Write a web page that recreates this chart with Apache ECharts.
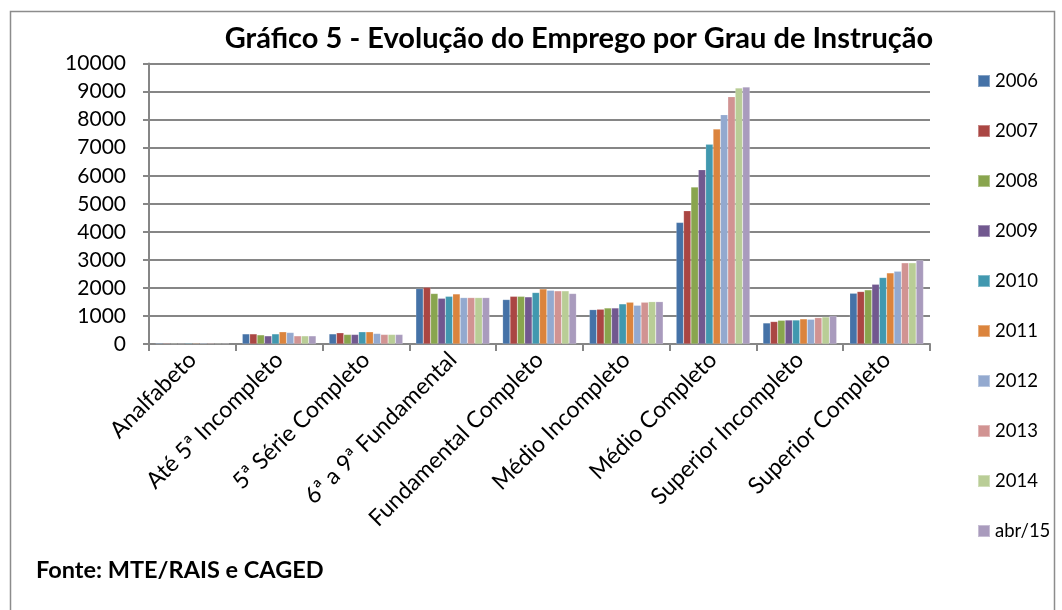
<!DOCTYPE html>
<html>
<head>
<meta charset="utf-8">
<script src="https://cdn.jsdelivr.net/npm/echarts@6/dist/echarts.min.js"></script>
<style>
  html, body { margin: 0; padding: 0; background: #fff; }
  #chart { width: 1062px; height: 610px; }
</style>
</head>
<body>
<div id="chart"></div>
<script>
// categories (grau de instrução)
const categories = [
  "Analfabeto", "Até 5ª Incompleto", "5ª Série Completo", "6ª a 9ª Fundamental",
  "Fundamental Completo", "Médio Incompleto", "Médio Completo",
  "Superior Incompleto", "Superior Completo"
];
const years = ["2006", "2007", "2008", "2009", "2010", "2011", "2012", "2013", "2014", "abr/15"];
const colors = ["#4572A7", "#AA4643", "#89A54E", "#71588F", "#4198AF", "#DB843D", "#93A9CF", "#D19392", "#B9CD96", "#A99BBD"];

// one array per year, values in category order
const v2006 = [30, 360, 360, 1975, 1585, 1225, 4335, 750, 1810];
const v2007 = [25, 360, 400, 2025, 1700, 1240, 4750, 800, 1870];
const v2008 = [20, 325, 340, 1800, 1700, 1285, 5595, 845, 1930];
const v2009 = [20, 290, 340, 1630, 1680, 1285, 6215, 855, 2130];
const v2010 = [30, 360, 435, 1700, 1835, 1430, 7120, 855, 2370];
const v2011 = [25, 435, 435, 1785, 1965, 1490, 7665, 895, 2535];
const v2012 = [30, 410, 375, 1655, 1915, 1380, 8180, 880, 2595];
const v2013 = [25, 290, 340, 1655, 1895, 1490, 8820, 940, 2895];
const v2014 = [20, 290, 340, 1655, 1895, 1510, 9130, 965, 2895];
const vAbr15 = [20, 290, 340, 1655, 1800, 1510, 9165, 1000, 2990];
const seriesValues = [v2006, v2007, v2008, v2009, v2010, v2011, v2012, v2013, v2014, vAbr15];

const myChart = echarts.init(document.getElementById('chart'));

const option = {
  animation: false,
  color: colors,
  textStyle: { fontFamily: "Lato" },
  title: {
    text: "Gráfico 5 - Evolução do Emprego por Grau de Instrução",
    left: 574,
    textAlign: "center",
    top: 19,
    textStyle: { fontFamily: "Lato", fontSize: 29, fontWeight: "bold", color: "#000" }
  },
  legend: {
    orient: "vertical",
    left: 977,
    top: 71,
    padding: 0,
    data: years,
    itemWidth: 12,
    itemHeight: 12,
    itemGap: 30,
    icon: "rect",
    textStyle: { fontFamily: "Lato", fontSize: 18.5, color: "#000", lineHeight: 20 }
  },
  grid: {
    left: 149,
    right: 132,
    top: 63.6,
    bottom: 266,
    containLabel: false
  },
  xAxis: {
    type: "category",
    data: categories,
    axisLine: { lineStyle: { color: "#868686", width: 2 } },
    axisTick: { show: true, length: 7, lineStyle: { color: "#868686", width: 2 } },
    axisLabel: {
      rotate: 45,
      interval: 0,
      margin: 12,
      fontFamily: "Lato",
      fontSize: 23,
      color: "#000"
    }
  },
  yAxis: {
    type: "value",
    min: 0,
    max: 10000,
    interval: 1000,
    axisLine: { show: true, lineStyle: { color: "#868686", width: 2 } },
    axisTick: { show: true, length: 6, lineStyle: { color: "#868686", width: 2 } },
    splitLine: { lineStyle: { color: "#868686", width: 2 } },
    axisLabel: {
      fontFamily: "Lato", fontSize: 21, color: "#000", margin: 23,
      formatter: (val) => String(val)
    }
  },
  series: years.map((y, i) => ({
    name: y,
    type: "bar",
    data: seriesValues[i],
    barGap: "0%",
    barCategoryGap: "15%",
    itemStyle: { borderColor: "rgba(255,255,255,0.35)", borderWidth: 0.5 }
  })),
  graphic: [
    {
      type: "rect",
      left: 8,
      top: 9,
      shape: { width: 1044, height: 640 },
      style: { fill: "none", stroke: "#8c8c8c", lineWidth: 1.5 },
      silent: true,
      z: -1
    },
    {
      type: "text",
      left: 36,
      top: 558,
      style: {
        text: "Fonte: MTE/RAIS e CAGED",
        font: "bold 23.5px Lato",
        fill: "#000"
      }
    }
  ]
};

myChart.setOption(option);
window.addEventListener('resize', () => myChart.resize());
</script>
</body>
</html>
